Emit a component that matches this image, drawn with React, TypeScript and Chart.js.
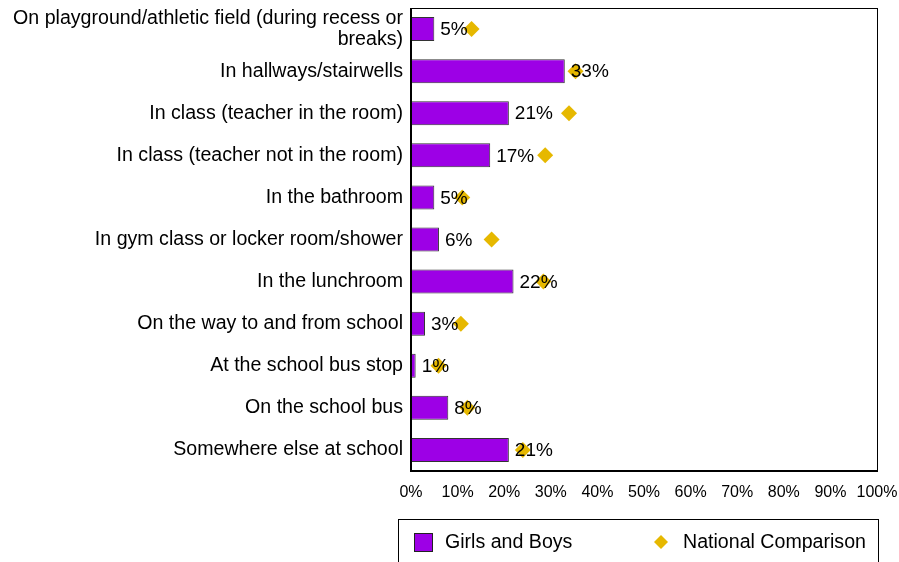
import React, { useEffect, useRef } from "react";
import { Chart, registerables } from "chart.js";

Chart.register(...registerables);

const categories: (string | string[])[] = [
  ["On playground/athletic field (during recess or", "breaks)"],
  "In hallways/stairwells",
  "In class (teacher in the room)",
  "In class (teacher not in the room)",
  "In the bathroom",
  "In gym class or locker room/shower",
  "In the lunchroom",
  "On the way to and from school",
  "At the school bus stop",
  "On the school bus",
  "Somewhere else at school",
];
const girlsAndBoys = [5, 33, 21, 17, 5, 6, 22, 3, 1, 8, 21];
const nationalComparison = [13, 35.3, 33.9, 28.8, 11, 17.3, 28.4, 10.7, 5.9, 12.1, 24];
const seriesNames = ["Girls and Boys", "National Comparison"];

const PURPLE = "#9D00E6";
const GOLD = "#E6B800";
const FONT = "'Liberation Sans', Arial, sans-serif";

export default function App() {
  const ref = useRef<HTMLCanvasElement | null>(null);
  useEffect(() => {
    if (!ref.current) return;
    const labelsPlugin = {
      id: "barLabels",
      afterDatasetsDraw(chart: any) {
        const ctx = chart.ctx;
        const meta = chart.getDatasetMeta(0);
        ctx.save();
        ctx.font = `19px ${FONT}`;
        ctx.fillStyle = "#000";
        ctx.textBaseline = "middle";
        ctx.textAlign = "left";
        meta.data.forEach((el: any, i: number) => {
          ctx.fillText(`${girlsAndBoys[i]}%`, el.x + 6, el.y + 1);
        });
        ctx.restore();
      },
      afterDraw(chart: any) {
        const ctx = chart.ctx;
        const a = chart.chartArea;
        ctx.save();
        // plot frame
        ctx.strokeStyle = "#000";
        ctx.lineWidth = 1;
        ctx.strokeRect(a.left + 0.5, a.top + 0.5, a.right - a.left, a.bottom - a.top);
        ctx.lineWidth = 2;
        ctx.beginPath();
        ctx.moveTo(a.left, a.top);
        ctx.lineTo(a.left, a.bottom);
        ctx.lineTo(a.right, a.bottom);
        ctx.stroke();
        // legend box
        ctx.lineWidth = 1;
        ctx.strokeStyle = "#000";
        ctx.strokeRect(398.5, 519.5, 480, 60);
        ctx.fillStyle = PURPLE;
        ctx.fillRect(414, 533, 19, 19);
        ctx.strokeStyle = "#222";
        ctx.strokeRect(414.5, 533.5, 18, 18);
        ctx.font = `19.6px ${FONT}`;
        ctx.fillStyle = "#000";
        ctx.textBaseline = "middle";
        ctx.fillText(seriesNames[0], 445, 543);
        ctx.fillStyle = GOLD;
        ctx.beginPath();
        ctx.moveTo(661 - 7, 542);
        ctx.lineTo(661, 542 - 7);
        ctx.lineTo(661 + 7, 542);
        ctx.lineTo(661, 542 + 7);
        ctx.closePath();
        ctx.fill();
        ctx.fillStyle = "#000";
        ctx.fillText(seriesNames[1], 683, 543);
        ctx.restore();
      },
    };
    const chart = new Chart(ref.current, {
      type: "bar",
      data: {
        labels: categories as any,
        datasets: [
          {
            type: "bar",
            label: seriesNames[0],
            data: girlsAndBoys,
            backgroundColor: PURPLE,
            borderColor: "#333",
            borderWidth: 1,
            barPercentage: 0.57,
            categoryPercentage: 1,
            order: 1,
          } as any,
          {
            type: "line",
            label: seriesNames[1],
            data: nationalComparison,
            showLine: false,
            pointStyle: "rectRot",
            pointRadius: 8,
            pointHoverRadius: 8,
            pointBackgroundColor: GOLD,
            pointBorderColor: GOLD,
            pointBorderWidth: 0,
            order: 0,
          } as any,
        ],
      },
      options: {
        indexAxis: "y",
        animation: false,
        responsive: false,
        maintainAspectRatio: false,
        layout: { padding: { left: 0, right: 22, top: 7, bottom: 0 } },
        plugins: {
          legend: { display: false },
          tooltip: { enabled: false },
        },
        scales: {
          x: {
            min: 0,
            max: 100,
            ticks: {
              stepSize: 10,
              callback: (v: any) => `${v}%`,
              font: { family: FONT, size: 16 },
              color: "#000",
              padding: 12,
              maxRotation: 0,
              autoSkip: false,
            },
            grid: { display: false, drawTicks: false },
            border: { display: false },
            afterFit: (s: any) => {
              s.height = 91;
              s.paddingLeft = 0;
              s.paddingRight = 0;
            },
          },
          y: {
            ticks: {
              font: { family: FONT, size: 19.6, lineHeight: 1.07 },
              color: "#000",
              padding: 8,
              autoSkip: false,
            },
            grid: { display: false, drawTicks: false },
            border: { display: false },
            afterFit: (s: any) => {
              s.width = 411;
              s.paddingTop = 0;
              s.paddingBottom = 0;
            },
          },
        },
      } as any,
      plugins: [labelsPlugin],
    });
    return () => chart.destroy();
  }, []);
  return (
    <div style={{ position: "fixed", left: 0, top: 0, width: 899, height: 562, background: "#fff" }}>
      <canvas ref={ref} width={899} height={562} style={{ width: 899, height: 562 }} />
    </div>
  );
}
